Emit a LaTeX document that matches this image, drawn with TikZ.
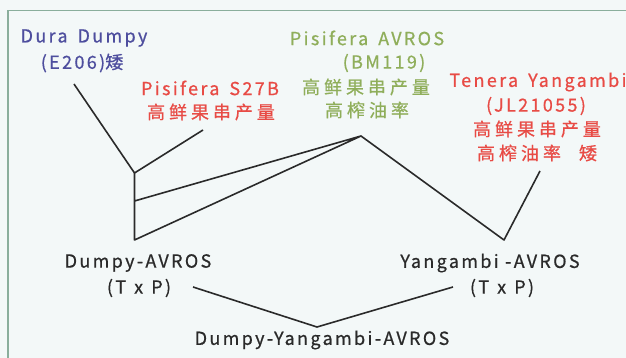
\documentclass[tikz,border=0pt]{standalone}
\usepackage{fontspec}
\setmainfont{Noto Sans CJK SC}
\newfontfamily\lbl[LetterSpace=13,FakeBold=0.7]{Noto Sans CJK SC}
\newfontfamily\cjk[LetterSpace=22,FakeBold=0.7]{Noto Sans CJK SC}
\definecolor{bg}{HTML}{F3F8F8}
\definecolor{frame}{HTML}{8AAE9C}
\definecolor{blu}{HTML}{4E4E9E}
\definecolor{redt}{HTML}{E84B45}
\definecolor{grn}{HTML}{8FAE5A}
\definecolor{ink}{HTML}{2A2A2A}
\begin{document}
\begin{tikzpicture}[x=1pt,y=-1pt,
  txt/.style={inner sep=0pt,font=\lbl\fontsize{18}{20}\selectfont,align=center},
  ctxt/.style={inner sep=0pt,font=\cjk\fontsize{18}{20}\selectfont,align=center},
  conn/.style={draw=ink,line width=1.6pt,line join=round}]
\useasboundingbox (0,0) rectangle (626,358);
\fill[bg] (0,0) rectangle (626,358);
\draw[frame,line width=1.8pt] (8,358) -- (8,10.5) -- (626,10.5);
% labels
\node[txt,text=blu] (dd1) at (84,38) {Dura\hspace{0.2em} Dumpy};
\node[txt,text=blu] (dd2) at (82,63) {(E206){\cjk 矮}};
\node[txt,text=redt] (ps1) at (210,88) {Pisifera\hspace{0.2em} S27B};
\node[ctxt,text=redt] (ps2) at (211,112) {高鲜果串产量};
\node[txt,text=grn] (pa1) at (367,38) {Pisifera\hspace{0.2em} AVROS};
\node[txt,text=grn] (pa2) at (384,63) {(BM119)};
\node[ctxt,text=grn] (pa3) at (366,87) {高鲜果串产量};
\node[ctxt,text=grn] (pa4) at (367,110) {高榨油率};
\node[txt,text=redt] (ty1) at (538,82) {Tenera\hspace{0.2em} Yangambi};
\node[txt,text=redt] (ty2) at (536,106) {(JL21055)};
\node[ctxt,text=redt] (ty3) at (537,129) {高鲜果串产量};
\node[ctxt,text=redt] (ty4) at (537,153) {高榨油率\hspace{1em}矮};
\node[txt,text=ink] (da1) at (138,263) {Dumpy-AVROS};
\node[txt,text=ink] (da2) at (139,288) {(T\hspace{0.45em}x\hspace{0.45em}P)};
\node[txt,text=ink] (ya1) at (490,263) {Yangambi -AVROS};
\node[txt,text=ink] (ya2) at (502,288) {(T\hspace{0.45em}x\hspace{0.45em}P)};
\node[txt,text=ink] (dya) at (322,340) {Dumpy-Yangambi-AVROS};
% connector points
\coordinate (a) at (74,84);
\coordinate (b) at (203,130);
\coordinate (j) at (134.5,173);
\coordinate (m) at (134.5,201);
\coordinate (k) at (134.5,240);
\coordinate (p) at (361,136);
\coordinate (y) at (504,240);
\coordinate (t) at (540,171);
\coordinate (l) at (193,287);
\coordinate (r) at (453,287);
\coordinate (q) at (317,327);
\draw[conn] (a) -- (j) -- (b);
\draw[conn] (j) -- (k) -- (p) -- (m);
\draw[conn] (p) -- (y) -- (t);
\draw[conn] (l) -- (q) -- (r);
\end{tikzpicture}
\end{document}
